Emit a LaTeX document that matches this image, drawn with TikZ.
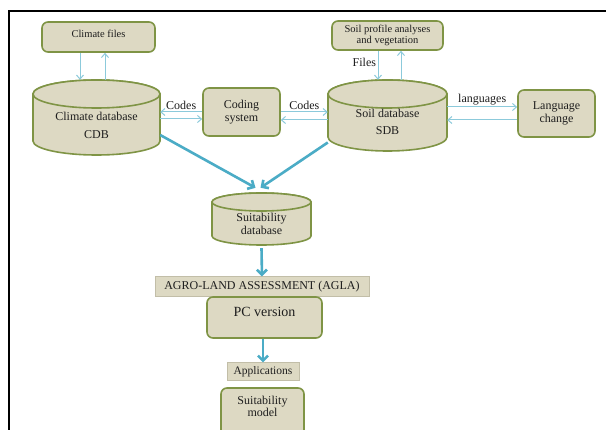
\documentclass[tikz,border=0pt]{standalone}
\usepackage{fontspec}
\setmainfont{Liberation Serif}
\usetikzlibrary{arrows.meta,calc}
\definecolor{boxfill}{HTML}{DDD9C3}
\definecolor{boxline}{HTML}{7F9445}
\definecolor{barline}{HTML}{C2BEA8}
\definecolor{thinblue}{HTML}{8CCADB}
\definecolor{thickblue}{HTML}{4BACC6}
\definecolor{txt}{HTML}{1E1E1E}
\begin{document}
\begin{tikzpicture}[x=1pt,y=-1pt,
  rbox/.style={draw=boxline, fill=boxfill, line width=1.6pt, rounded corners=6pt, text=txt, align=center, inner sep=0pt},
  sbox/.style={draw=barline, fill=boxfill, line width=1pt, text=txt, inner sep=0pt},
  cyl/.style={draw=boxline, fill=boxfill, line width=1.6pt},
  dbnode/.style={inner sep=0pt, text=txt, align=center},
  txtnode/.style={inner sep=0pt, text=txt, align=center},
  thinarrow/.style={draw=thinblue, line width=1pt, -{Straight Barb[length=4pt,width=7pt]}},
  thickarrow/.style={draw=thickblue, line width=2.6pt, -{Straight Barb[length=5pt,width=10pt]}},
  lbl/.style={text=txt, font=\fontsize{12}{12}\selectfont, inner sep=1.5pt},
  f10/.style={font=\fontsize{10.5}{11}\selectfont},
  f12/.style={font=\fontsize{12}{12.5}\selectfont}
]
\useasboundingbox (0,0) rectangle (606,430);
\clip (0,0) rectangle (606,430);
\fill[white] (0,0) rectangle (606,430);

% frame
\draw[line width=2pt] (9,432) -- (9,11) -- (608,11);

% cylinders
\filldraw[cyl] (33,94) -- (33,141) arc[start angle=180,end angle=360,x radius=63.5pt,y radius=14pt] -- (160,94) arc[start angle=0,end angle=180,x radius=63.5pt,y radius=14pt] -- cycle;
\draw[cyl] (96.5,94) ellipse[x radius=63.5pt,y radius=14pt];
\filldraw[cyl] (328,94) -- (328,137) arc[start angle=180,end angle=360,x radius=59.5pt,y radius=14pt] -- (447,94) arc[start angle=0,end angle=180,x radius=59.5pt,y radius=14pt] -- cycle;
\draw[cyl] (387.5,94) ellipse[x radius=59.5pt,y radius=14pt];
\filldraw[cyl] (212,202) -- (212,236) arc[start angle=180,end angle=360,x radius=49.5pt,y radius=9pt] -- (311,202) arc[start angle=0,end angle=180,x radius=49.5pt,y radius=9pt] -- cycle;
\draw[cyl] (261.5,202) ellipse[x radius=49.5pt,y radius=9pt];

% nodes
\node[dbnode, minimum width=127pt, minimum height=75pt] (cdb) at (96.5,117.5) {};
\node[dbnode, f12] (cdbtext) at (96.5,125.5) {Climate database\\[5pt]CDB};
\node[dbnode, minimum width=119pt, minimum height=71pt] (sdb) at (387.5,115.5) {};
\node[dbnode, f12] (sdbtext) at (387.5,122) {Soil database\\[4pt]SDB};
\node[dbnode, minimum width=99pt, minimum height=52pt] (suit) at (261.5,219) {};
\node[dbnode, f12] (suittext) at (261.5,224) {Suitability\\database};

\node[rbox, minimum width=113pt, minimum height=30pt] (cf) at (98.5,37) {};
\node[txtnode, f10] (cftext) at (98.5,33.5) {Climate files};
\node[rbox, f10, minimum width=111pt, minimum height=29pt] (sp) at (387.5,35.5) {Soil profile analyses\\and vegetation};
\node[rbox, f12, minimum width=77pt, minimum height=48pt] (cs) at (241.5,112) {Coding\\system};
\node[rbox, f12, minimum width=77pt, minimum height=47pt] (lc) at (556.5,113.5) {Language\\change};
\node[sbox, f12, minimum width=214pt, minimum height=20pt] (agla) at (262,287) {AGRO-LAND ASSESSMENT (AGLA)};
\node[rbox, minimum width=115pt, minimum height=41pt] (pc) at (264.5,317.5) {};
\node[txtnode, font=\fontsize{14}{14}\selectfont] (pctext) at (264.5,312) {PC version};
\node[sbox, font=\fontsize{11.5}{12}\selectfont, minimum width=72pt, minimum height=18pt] (app) at (263,372) {Applications};
\node[rbox, minimum width=83pt, minimum height=52pt] (sm) at (262.5,414) {};
\node[txtnode, f12] (smtext) at (262.5,406.5) {Suitability\\model};

% thin connectors
\draw[thinarrow] ([xshift=-18.5pt]cf.south) -- ([xshift=-16.5pt]cdb.north);
\draw[thinarrow] ([xshift=8.5pt]cdb.north) -- ([xshift=6.5pt]cf.south);
\draw[thinarrow] ([xshift=-9.5pt]sp.south) -- node[lbl, left, pos=0.4] (fileslbl) {Files} ([xshift=-9.5pt]sdb.north);
\draw[thinarrow] ([xshift=13.5pt]sdb.north) -- ([xshift=13.5pt]sp.south);

\draw[thinarrow] (cs.west) -- node[lbl, above] (codes1) {Codes} (cs.west -| cdb.east);
\draw[thinarrow] ($(cs.west -| cdb.east)+(0,7)$) -- ($(cs.west)+(0,7)$);
\draw[thinarrow] (cs.east) -- node[lbl, above] (codes2) {Codes} (cs.east -| sdb.west);
\draw[thinarrow] ($(cs.east -| sdb.west)+(0,8)$) -- ($(cs.east)+(0,8)$);

\draw[thinarrow] ($(lc.west -| sdb.east)+(0,-6.5)$) -- node[lbl, above] (langlbl) {languages} ($(lc.west)+(0,-6.5)$);
\draw[thinarrow] ($(lc.west)+(0,6.5)$) -- ($(lc.west -| sdb.east)+(0,6.5)$);

% thick connectors
\draw[thickarrow] ($(cdb.east)+(0,17.5)$) -- ($(suit.north)+(-6,-5)$);
\draw[thickarrow] ($(sdb.west)+(0,27)$) -- ($(suit.north)+(-1,-5)$);
\draw[thickarrow] ($(suit.south)+(0,3)$) -- (agla.north);
\draw[thickarrow] (pc.south -| app.north) -- (app.north);
\end{tikzpicture}
\end{document}
